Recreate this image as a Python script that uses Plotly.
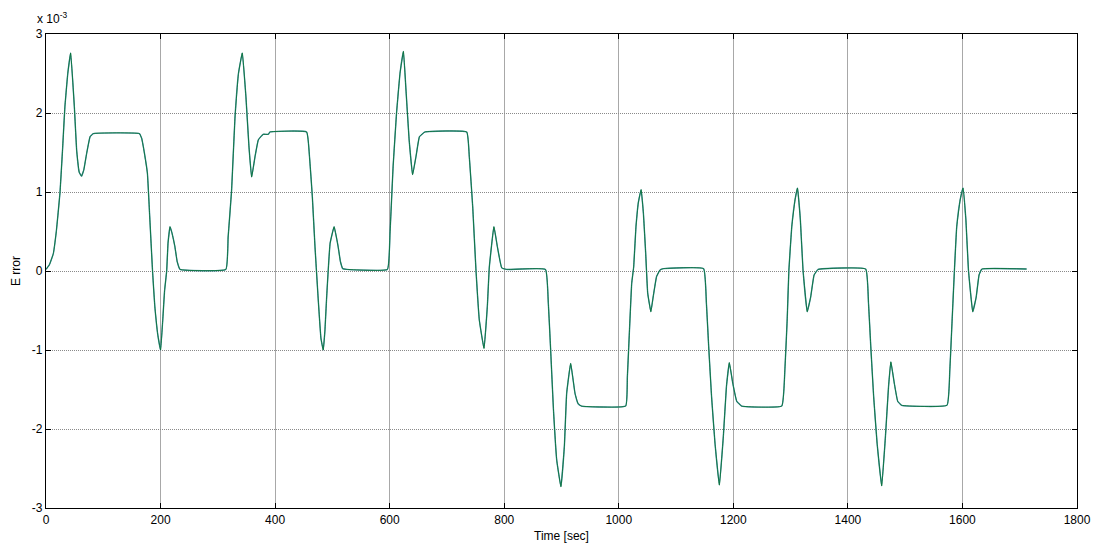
import plotly.graph_objects as go

# time [sec]
time_s = [0, 6, 12.8, 18, 24.4, 29, 33, 38, 43, 49.5, 53.5, 58, 62, 66, 71, 77, 82.6,
          163, 167, 170, 177, 181, 186, 190, 195, 200, 204, 207, 210.7, 213, 216.5, 220, 225, 229, 234,
          314, 318, 324, 330, 336, 342.7, 349, 354.4, 359, 365, 370.7, 379, 388, 391,
          455, 460, 465, 469.6, 475, 480, 484, 487, 490, 496, 503, 510, 514, 518, 525,
          596, 600.6, 606, 612, 618, 624, 628.5, 634, 640, 646, 652, 661.7,
          734.5, 739, 745, 750.7, 756.5, 764.7, 770.5, 774, 782, 788, 795.6, 804,
          872, 877, 881, 886, 891.6, 899, 905, 909, 916, 923.6, 929, 935,
          1012, 1015, 1019, 1022.5, 1026, 1030, 1034, 1039, 1043, 1047, 1050.5, 1056, 1060, 1066, 1072, 1078,
          1148, 1153, 1157, 1162, 1168, 1175.6, 1182.5, 1188, 1193, 1199, 1206, 1214.6,
          1284.5, 1290, 1294, 1297, 1302, 1307.7, 1312, 1317, 1321.7, 1329, 1335, 1341, 1348,
          1431, 1436, 1440, 1445, 1451, 1459, 1465.5, 1471, 1475, 1481, 1487, 1494,
          1573, 1578, 1582, 1586, 1590, 1596, 1601, 1606, 1610.5, 1618, 1624, 1629, 1634, 1712]

# error, in units of 1e-3
error_e3 = [0.02, 0.08, 0.22, 0.5, 0.99, 1.55, 2.08, 2.5, 2.76, 2.08, 1.53, 1.25, 1.20, 1.28, 1.49, 1.70, 1.74,
            1.74, 1.68, 1.57, 1.24, 0.7, 0.0, -0.45, -0.8, -1.0, -0.6, -0.25, 0.0, 0.35, 0.56, 0.48, 0.31, 0.12, 0.02,
            0.02, 0.43, 1.02, 1.95, 2.5, 2.76, 2.21, 1.57, 1.19, 1.45, 1.66, 1.73, 1.73, 1.76,
            1.76, 1.45, 0.94, 0.31, -0.33, -0.85, -1.0, -0.75, -0.33, 0.35, 0.56, 0.31, 0.12, 0.03, 0.02,
            0.02, 0.48, 1.32, 2.0, 2.5, 2.78, 2.29, 1.66, 1.22, 1.45, 1.70, 1.76,
            1.76, 1.45, 0.81, 0.01, -0.62, -0.98, -0.45, 0.05, 0.56, 0.31, 0.04, 0.02,
            0.02, -0.41, -0.99, -1.76, -2.39, -2.73, -2.22, -1.55, -1.17, -1.55, -1.68, -1.71,
            -1.71, -1.34, -0.70, -0.16, 0.05, 0.56, 0.86, 1.03, 0.73, 0.22, -0.28, -0.515, -0.33, -0.07, 0.013, 0.03,
            0.03, -0.41, -0.96, -1.59, -2.18, -2.71, -2.10, -1.46, -1.16, -1.42, -1.65, -1.71,
            -1.71, -1.25, -0.62, 0.01, 0.56, 0.90, 1.05, 0.65, 0.01, -0.515, -0.33, -0.05, 0.02,
            0.025, -0.41, -0.96, -1.59, -2.18, -2.72, -2.10, -1.46, -1.15, -1.42, -1.65, -1.70,
            -1.70, -1.25, -0.62, 0.01, 0.56, 0.90, 1.05, 0.65, 0.01, -0.515, -0.33, -0.05, 0.025, 0.025]

x_ticks = [0, 200, 400, 600, 800, 1000, 1200, 1400, 1600, 1800]
y_ticks = [-3, -2, -1, 0, 1, 2, 3]

FONT = "Liberation Sans, Arial, sans-serif"

fig = go.Figure()
fig.add_trace(go.Scatter(x=time_s, y=error_e3, mode="lines",
                         line=dict(color="#4a90a4", width=1.4, shape="spline", smoothing=0.3),
                         showlegend=False, hoverinfo="skip"))
fig.add_trace(go.Scatter(x=time_s, y=error_e3, mode="lines",
                         line=dict(color="#006e2a", width=0.8, shape="spline", smoothing=0.3),
                         showlegend=False))

axis_common = dict(showline=True, linecolor="black", linewidth=1.2, mirror="allticks",
                   ticks="inside", ticklen=5, tickcolor="black", tickwidth=1,
                   showgrid=True, gridwidth=1, automargin=False,
                   zeroline=False, tickfont=dict(family=FONT, size=12, color="black"))

fig.update_xaxes(range=[0, 1800], tickvals=x_ticks, ticktext=[str(v) for v in x_ticks],
                 gridcolor="#a8a8a8", griddash="solid",
                 title=dict(text="Time [sec]", font=dict(family=FONT, size=12, color="black"), standoff=6),
                 **axis_common)
fig.update_yaxes(range=[-3, 3], tickvals=y_ticks, ticktext=[str(v) for v in y_ticks],
                 gridcolor="#8a8a8a", griddash="1px,1px",
                 title=dict(text="E rror", font=dict(family=FONT, size=12, color="black"), standoff=8),
                 **axis_common)

fig.add_annotation(text="x 10<sup>-3</sup>", xref="paper", yref="paper", x=-0.011, y=1.0,
                   xanchor="left", yanchor="bottom", showarrow=False, yshift=6,
                   font=dict(family=FONT, size=12, color="black"))

fig.update_layout(width=1096, height=554, margin=dict(l=46, r=19, t=34, b=46),
                  plot_bgcolor="white", paper_bgcolor="white")

fig.write_html("out.html")
